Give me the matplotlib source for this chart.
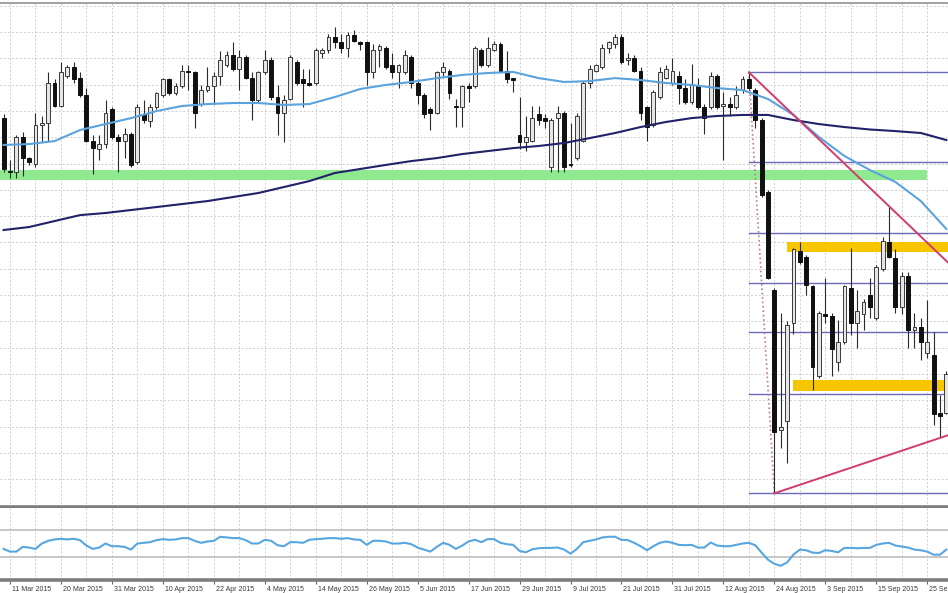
import matplotlib
matplotlib.use("Agg")
import matplotlib.pyplot as plt
import matplotlib.transforms as mtransforms
import numpy as np

# S&P 500 daily bars, 10 Mar - 28 Sep 2015 (no price scale shown)
opens = [2081, 2051, 2050, 2070, 2058, 2055, 2077, 2078, 2101, 2088,
         2105, 2110, 2104, 2094, 2068, 2063, 2066, 2086, 2070, 2068,
         2072, 2056, 2083, 2079, 2087, 2094, 2103, 2095, 2099, 2108,
         2107, 2089, 2097, 2099, 2105, 2111, 2117, 2109, 2116, 2104,
         2091, 2107, 2114, 2093, 2084, 2092, 2113, 2103, 2101, 2101,
         2118, 2120, 2127, 2124, 2121, 2128, 2124, 2124, 2107, 2120,
         2121, 2111, 2107, 2107, 2116, 2101, 2094, 2086, 2084, 2107,
         2108, 2088, 2087, 2099, 2099, 2120, 2111, 2120, 2123, 2108,
         2103.5, 2071, 2067, 2068, 2083, 2081, 2053, 2081, 2084, 2055,
         2058, 2068, 2101, 2108, 2110, 2121, 2123, 2127, 2114, 2115,
         2108, 2087, 2077, 2093, 2104, 2101, 2105, 2098, 2090, 2100,
         2087, 2087, 2105, 2088, 2089, 2087, 2097, 2103, 2097, 2080,
         2039, 1983, 1903, 1908, 1964, 2005, 2002, 1985, 1934, 1969,
         1968, 1942, 1953, 1984, 1964, 1969, 1980, 1967, 1995, 2010,
         2001, 1973, 1991, 1960, 1962, 1947, 1946, 1913, 1913]
highs = [2083, 2057, 2071, 2073, 2059, 2084, 2082, 2107, 2103, 2113,
         2111, 2113, 2107, 2098, 2071, 2071, 2091, 2087, 2072, 2075,
         2073, 2089, 2091, 2089, 2096, 2104, 2104, 2101, 2111, 2111,
         2108, 2100, 2110, 2107, 2119, 2119, 2124, 2120, 2117, 2107,
         2108, 2120, 2116, 2100, 2094, 2117, 2114, 2109, 2109, 2121,
         2121, 2129, 2133, 2129, 2130, 2131, 2125, 2125, 2123, 2123,
         2122, 2118, 2112, 2120, 2117, 2103, 2095, 2087, 2108, 2113,
         2109, 2092, 2100, 2101, 2122, 2121, 2127, 2125, 2124, 2119,
         2104, 2093, 2082, 2088, 2088, 2083, 2081, 2088, 2085, 2078,
         2084, 2102, 2111, 2112, 2123, 2125, 2129, 2129, 2118, 2117,
         2110, 2088, 2097, 2110, 2111, 2115, 2108, 2103, 2112, 2104,
         2089, 2107, 2106, 2096, 2093, 2099, 2105, 2107, 2098, 2081,
         2040, 1984, 1970, 1965, 2007, 2010, 2003, 1986, 1971, 1990,
         1970, 1966, 1986, 2007, 1983, 1978, 1990, 1997, 2013, 2030,
         2006, 1993, 1993, 1970, 1967, 1977, 1959, 1923, 1937]
lows = [2050, 2047, 2047, 2048, 2054, 2053, 2067, 2068, 2087, 2087,
        2104, 2101, 2093, 2067, 2049, 2057, 2064, 2069, 2050, 2058,
        2053, 2055, 2078, 2076, 2086, 2093, 2094, 2094, 2098, 2097,
        2075, 2088, 2096, 2089, 2100, 2110, 2108, 2097, 2103, 2080,
        2090, 2106, 2091, 2071, 2067, 2091, 2100, 2087, 2099, 2100,
        2115, 2118, 2121, 2118, 2116, 2124, 2120, 2100, 2104, 2110,
        2109, 2104, 2098, 2106, 2098, 2089, 2081, 2074, 2083, 2105,
        2092, 2076, 2076, 2090, 2098, 2110, 2110, 2119, 2107, 2101,
        2096, 2063, 2062, 2067, 2077, 2075, 2050, 2050, 2050, 2053,
        2057, 2067, 2098, 2107, 2109, 2118, 2121, 2112, 2111, 2107,
        2080, 2068, 2076, 2092, 2103, 2100, 2089, 2089, 2089, 2086,
        2072, 2086, 2086, 2057, 2082, 2086, 2095, 2097, 2075, 2036,
        1989, 1867, 1893, 1884, 1958, 1998, 1980, 1926, 1933, 1964,
        1934, 1937, 1952, 1957, 1950, 1960, 1967, 1966, 1994, 2001,
        1970, 1969, 1950, 1950, 1943, 1944, 1906, 1899, 1912]
closes = [2052, 2050, 2070, 2058, 2056, 2077, 2078, 2101, 2088, 2107,
          2110, 2103, 2094, 2068, 2064, 2066, 2084, 2070, 2068, 2072,
          2054, 2087, 2080, 2087, 2095, 2103, 2095, 2099, 2108, 2107,
          2084, 2097, 2099, 2105, 2114, 2117, 2109, 2116, 2104, 2091,
          2107, 2114, 2093, 2084, 2091, 2116, 2101, 2101, 2100, 2120,
          2120, 2127, 2124, 2121, 2128, 2125, 2123, 2107, 2120, 2122,
          2110, 2107, 2111, 2117, 2101, 2094, 2083, 2084, 2107, 2110,
          2095, 2087, 2099, 2098, 2121, 2111, 2121, 2123, 2108, 2103,
          2102.5, 2067, 2070, 2081, 2080, 2079, 2080, 2084, 2053, 2054,
          2082, 2101, 2109, 2111, 2121, 2124, 2127, 2113, 2115, 2108,
          2084, 2076, 2096, 2107, 2109, 2108, 2098, 2090, 2100, 2087,
          2081, 2105, 2087, 2089, 2087, 2094, 2103, 2098, 2080, 2037,
          1990, 1902, 1905, 1963, 2006, 1999, 1986, 1939, 1970, 1968,
          1949, 1953, 1985, 1964, 1971, 1976, 1973, 1996, 2011, 2002,
          1973, 1991, 1960, 1962, 1953, 1953, 1912, 1911, 1935]

# moving averages, read at every 4th bar
ma_bars = list(range(0, 149, 4))
ma_fast = [2065.6, 2066.1, 2067.8, 2074.1, 2077.5, 2080.9, 2084.9, 2087.8, 2088.9, 2089.5,
           2089.5, 2088.4, 2088.9, 2092.9, 2097.5, 2099.8, 2101.5, 2103.7, 2105.5, 2106.6,
           2107.2, 2103.7, 2101.5, 2102.0, 2103.7, 2102.6, 2100.9, 2099.8, 2098.0, 2096.9,
           2091.8, 2082.7, 2070.1, 2059.3, 2051.3, 2044.5, 2033.6, 2017.7]
ma_slow = [2017.1, 2018.8, 2022.2, 2025.6, 2026.8, 2028.5, 2030.2, 2031.9, 2033.6, 2035.9,
           2038.2, 2041.6, 2045.0, 2049.6, 2051.9, 2054.2, 2056.4, 2058.1, 2060.4, 2062.1,
           2063.8, 2065.0, 2066.7, 2069.5, 2072.4, 2075.8, 2078.7, 2080.9, 2082.1, 2082.7,
           2082.7, 2079.8, 2077.5, 2075.8, 2074.4, 2073.5, 2072.4, 2068.4]

rsi = [42, 38, 38, 45, 44, 42, 50, 54, 56, 57,
       56, 57, 55, 47, 42, 44, 50, 46, 46, 45,
       41, 50, 51, 52, 55, 56.5, 55.5, 56, 58, 58,
       54, 51, 53, 54, 60, 59, 58, 58, 55, 50,
       50, 55.5, 54, 47.5, 46, 52, 52, 51, 55.5, 56.5,
       57, 58, 58, 57, 58, 56, 55.5, 48, 54, 54,
       53, 50, 50, 51, 49, 44, 41, 38, 45, 51,
       48, 42, 47, 53, 55.5, 52, 56.5, 56.5, 51, 49,
       48, 39, 37, 41.5, 43, 43.5, 43.5, 44, 41, 35,
       42, 52, 54, 56, 59, 60, 60, 55.5, 55, 51,
       46, 40, 46, 51, 53, 51, 48, 47.5, 48, 44,
       44, 51.5, 47, 46, 46, 48, 50, 51, 47.5, 36.5,
       26, 20, 17, 22, 33.5, 41, 40, 36.5, 36, 40,
       39, 37, 43.5, 43.5, 43, 43.5, 43.5, 48, 50, 51,
       47, 45.5, 44, 41, 40, 38, 33.5, 33.5, 41]
rsi_levels = [70, 30]

tick_bars = list(range(1, 149, 8))
tick_labels = ['11 Mar 2015', '20 Mar 2015', '31 Mar 2015', '10 Apr 2015', '22 Apr 2015',
               '4 May 2015', '14 May 2015', '26 May 2015', '5 Jun 2015', '17 Jun 2015',
               '29 Jun 2015', '9 Jul 2015', '21 Jul 2015', '31 Jul 2015', '12 Aug 2015',
               '24 Aug 2015', '3 Sep 2015', '15 Sep 2015', '25 Sep 2015']

# drawn objects
support_zone = (2045.5, 2051.3)
support_end = 145
upper_zone = (2004.6, 2010.3)
upper_start = 123
lower_zone = (1925.3, 1931.6)
lower_start = 124
fib_hi_bar, fib_lo_bar = 117, 121
fib_ratios = [0, 0.236, 0.382, 0.5, 0.618, 0.786, 1.0]
tri_upper_end = (149, 1996)
tri_lower_end = (149, 1901)

o = np.array(opens, dtype=float)
h = np.array(highs, dtype=float)
l = np.array(lows, dtype=float)
c = np.array(closes, dtype=float)
bars = np.arange(len(o))

H = 593.0
fig = plt.figure(figsize=(9.48, 5.93), dpi=100)
ax = fig.add_axes([0, 1 - 507 / H, 1, 504.5 / H])
rax = fig.add_axes([0, 1 - 579.5 / H, 1, 71.5 / H], sharex=ax)

x0, x1 = -0.565, 148.26
ax.set_xlim(x0, x1)
ax.set_ylim(1859.2, 2146.8)
rax.set_ylim(-3.3, 102.6)

# grid
grid_kw = dict(color='#cfcfcf', lw=0.7, ls=(0, (2, 2)), zorder=0)
for gx in range(1, 149, 4):
    ax.axvline(gx, **grid_kw)
    rax.axvline(gx, **grid_kw)
for gy in range(1860, 2146, 15):
    ax.axhline(gy, **grid_kw)

# zones
ax.fill_between([x0, support_end], support_zone[0], support_zone[1], color='#8fe98f', lw=0, zorder=1)
ax.fill_between([upper_start, x1], upper_zone[0], upper_zone[1], color='#f7c600', lw=0, zorder=1)
ax.fill_between([lower_start, x1], lower_zone[0], lower_zone[1], color='#f7c600', lw=0, zorder=1)

# fibonacci retracement
fhi = h[fib_hi_bar]
flo = l[fib_lo_bar]
for r in fib_ratios:
    ax.plot([fib_hi_bar, x1], [flo + r * (fhi - flo)] * 2, color='#6a6ab8', lw=1.0, zorder=2)
ax.plot([fib_hi_bar, fib_lo_bar], [fhi, flo], color='#c07a8a', lw=1.2, ls=':', zorder=2)

# candles
up = c >= o
body_lo = np.minimum(o, c)
body_h = np.maximum(np.abs(c - o), 0.6)
ax.vlines(bars, l, h, color='#2a2a2a', lw=0.8, zorder=3)
ax.bar(bars[up], body_h[up], bottom=body_lo[up], width=0.6, color='#e6e6e6',
       edgecolor='#3a3a3a', linewidth=0.7, zorder=3)
ax.bar(bars[~up], body_h[~up], bottom=body_lo[~up], width=0.6, color='#111111',
       edgecolor='#111111', linewidth=0.7, zorder=3)

# moving averages
ax.plot(ma_bars, ma_fast, color='#5aa3dc', lw=1.5, zorder=4)
ax.plot(ma_bars, ma_slow, color='#22226a', lw=1.5, zorder=4)

# triangle
ax.plot([fib_hi_bar, tri_upper_end[0]], [fhi, tri_upper_end[1]], color='#d23c6e', lw=1.4, zorder=5)
ax.plot([fib_lo_bar, tri_lower_end[0]], [flo, tri_lower_end[1]], color='#d23c6e', lw=1.4, zorder=5)

# rsi panel
for lv in rsi_levels:
    rax.axhline(lv, color='#bdbdbd', lw=1.2, zorder=1)
rax.plot(bars, rsi, color='#58a6df', lw=1.5, zorder=3)

for a in (ax, rax):
    a.spines['left'].set_visible(False)
    a.spines['right'].set_visible(False)
    a.spines['bottom'].set_color('#7d7d7d')
    a.spines['bottom'].set_linewidth(2.6)
    a.set_yticks([])
ax.spines['top'].set_color('#a0a0a0')
ax.spines['top'].set_linewidth(1.4)
rax.spines['top'].set_visible(False)
ax.tick_params(axis='x', length=0, labelbottom=False)

rax.set_xticks(tick_bars)
rax.set_xticklabels(tick_labels, fontsize=5, family='Liberation Sans', color='#3a3a3a', ha='left')
rax.tick_params(axis='x', length=3, width=0.8, color='#666666', pad=1.5)
offset = mtransforms.ScaledTranslation(2 / 100, 0, fig.dpi_scale_trans)
for lbl in rax.get_xticklabels():
    lbl.set_transform(lbl.get_transform() + offset)

fig.savefig('out.png', dpi=100)
